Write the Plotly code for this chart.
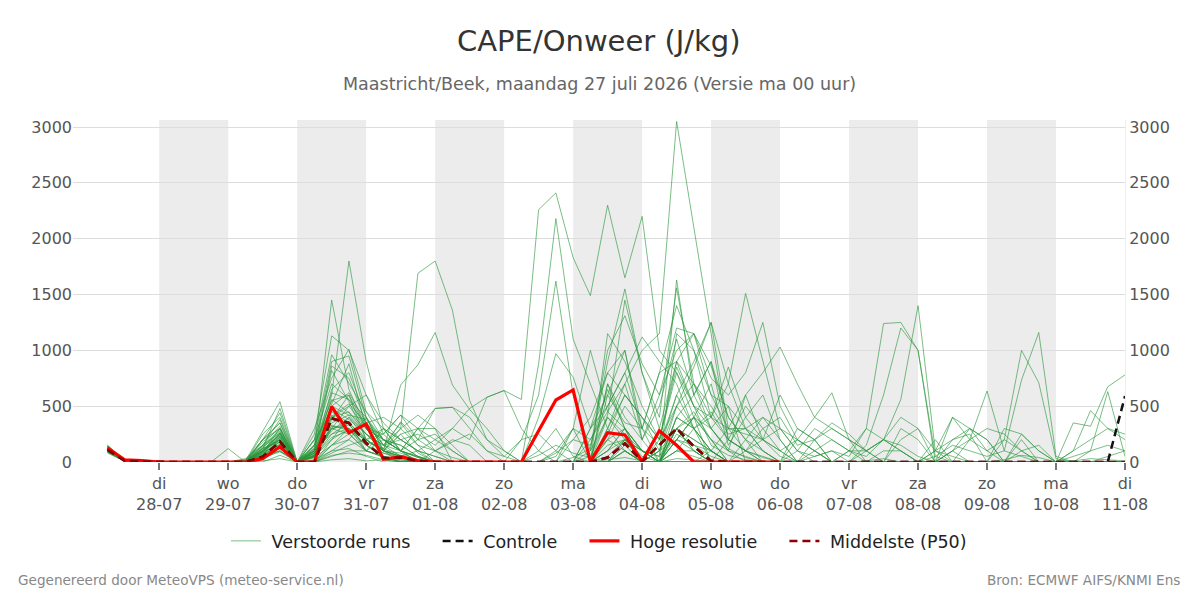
import plotly.graph_objects as go
import pandas as pd

# ---------------- data ----------------
times = pd.date_range("2026-07-27 06:00", periods=60, freq="6h")

tick_days = ["2026-07-28", "2026-07-29", "2026-07-30", "2026-07-31", "2026-08-01",
             "2026-08-02", "2026-08-03", "2026-08-04", "2026-08-05", "2026-08-06",
             "2026-08-07", "2026-08-08", "2026-08-09", "2026-08-10", "2026-08-11"]
day_names = ["di", "wo", "do", "vr", "za", "zo", "ma", "di", "wo", "do", "vr", "za", "zo", "ma", "di"]
day_dates = ["28-07", "29-07", "30-07", "31-07", "01-08", "02-08", "03-08", "04-08",
             "05-08", "06-08", "07-08", "08-08", "09-08", "10-08", "11-08"]
shaded_days = ["2026-07-28", "2026-07-30", "2026-08-01", "2026-08-03",
               "2026-08-05", "2026-08-07", "2026-08-09"]
y_ticks = [0, 500, 1000, 1500, 2000, 2500, 3000]

# ensemble members (6-hourly from 27-07 06:00)
run_01 = [150,15,5, 0,0,0,0, 0,10,280,540, 0,120,1450,650, 300,120,60,20, 10,0,0,0, 0,0,60,150, 80,40,420,1450, 800,300,900,500, 150,60,20,0, 0,0,0,0, 0,10,30,0, 0,0,0,0, 0,20,60,40, 0,10,30,20, 10]
run_02 = [120,12,4, 0,0,0,0, 0,0,120,480, 0,60,600,1800, 900,300,100,40, 0,0,0,0, 0,0,0,80, 200,150,650,300, 100,50,1630,600, 300,120,40,0, 0,0,0,0, 0,0,0,0, 0,0,0,0, 0,0,0,0, 0,0,0,0, 0]
run_03 = [130,10,3, 0,0,0,0, 0,20,200,440, 0,250,1130,1000, 600,250,420,200, 100,40,0,0, 0,0,0,0, 40,120,1000,1310, 880,600,1200,1150, 600,300,100,40, 0,0,0,0, 0,0,0,0, 0,0,0,0, 0,0,0,0, 0,0,0,0, 0]
run_04 = [100,8,2, 0,0,0,0, 0,0,150,380, 0,150,900,950, 400,150,300,1690, 1800,1360,550,200, 50,0,0,0, 0,0,200,500, 300,150,600,900, 1250,700,300,100, 0,0,0,0, 0,0,0,0, 0,0,0,0, 0,0,0,0, 0,0,0,0, 0]
run_05 = [90,10,3, 0,0,0,0, 0,0,80,300, 0,100,500,620, 350,200,100,40, 0,0,0,0, 0,0,0,50, 300,200,450,700, 1000,1150,3050,2080, 1150,200,100,50, 0,0,0,0, 0,0,0,0, 0,0,0,0, 0,0,0,0, 0,0,0,0, 0]
run_06 = [110,12,4, 0,0,0,0, 0,0,100,260, 0,80,400,450, 250,100,50,100, 200,300,480,580, 640,560,2260,2410, 1830,1490,2300,1650, 2200,1000,800,500, 300,100,50,0, 0,0,0,0, 0,0,0,0, 0,0,0,0, 0,0,0,0, 0,0,0,0, 0]
run_07 = [100,10,2, 0,0,0,0, 0,0,60,200, 0,50,300,350, 200,80,40,10, 0,0,0,0, 0,0,880,2180, 1100,700,300,100, 0,200,500,300, 100,0,0,0, 0,0,0,0, 0,0,0,0, 0,0,0,0, 0,0,0,0, 0,0,0,0, 0]
run_08 = [140,15,5, 0,0,0,0, 0,30,150,320, 0,100,820,540, 200,100,250,80, 0,0,0,0, 0,200,600,1620, 600,100,900,1550, 800,400,1560,700, 300,100,600,200, 50,0,0,0, 0,0,0,0, 0,0,0,0, 0,0,0,0, 0,0,0,0, 0]
run_09 = [120,10,3, 0,0,0,0, 0,0,200,350, 0,200,700,560, 300,100,690,870, 1160,690,470,300, 100,0,0,0, 0,100,400,250, 100,0,300,200, 100,0,0,0, 0,0,0,0, 0,0,0,0, 0,0,0,0, 0,0,0,0, 0,0,0,0, 0]
run_10 = [110,10,3, 0,0,0,0, 0,20,100,250, 0,80,650,800, 400,200,150,50, 0,0,0,0, 0,0,100,300, 50,0,600,1000, 300,800,1400,1000, 400,700,1510,900, 300,100,0,0, 0,0,0,0, 0,0,0,0, 0,0,0,0, 0,0,0,0, 0]
run_11 = [90,8,2, 0,0,0,0, 0,0,50,180, 0,100,400,500, 300,100,80,20, 0,0,0,0, 0,0,0,0, 0,300,800,600, 400,200,900,1150, 750,600,800,1250, 500,200,100,0, 0,0,0,0, 0,0,0,0, 0,0,0,0, 0,0,0,0, 0]
run_12 = [130,12,4, 0,0,0,0, 0,0,180,300, 0,150,550,600, 300,250,100,50, 0,0,0,0, 0,0,0,0, 0,0,300,700, 200,0,500,850, 1250,300,600,800, 1030,700,400,620, 200,100,0,0, 0,0,0,0, 0,0,0,0, 0,0,0,0, 0]
run_13 = [100,10,3, 0,0,0,0, 0,0,100,220, 0,50,250,300, 150,50,0,0, 0,0,0,0, 0,0,0,0, 0,0,0,100, 0,100,300,200, 100,0,200,400, 300,100,50,100, 50,300,1240,1250, 1000,0,100,0, 0,0,0,0, 0,0,0,0, 0]
run_14 = [120,10,3, 0,0,0,0, 0,10,120,180, 0,100,350,420, 250,100,50,0, 0,0,0,0, 0,0,0,0, 0,0,100,300, 100,0,400,300, 100,0,0,0, 0,0,50,100, 0,150,600,1200, 1000,50,0,0, 0,0,0,0, 0,0,0,0, 0]
run_15 = [140,14,5, 0,0,0,0, 0,0,90,150, 0,50,200,300, 100,40,0,0, 0,0,0,0, 0,0,0,0, 0,50,200,100, 0,0,200,400, 200,0,0,0, 0,0,0,0, 100,100,200,560, 1400,100,50,0, 0,0,0,0, 0,0,0,0, 0]
run_16 = [80,8,2, 0,0,0,0, 0,0,60,120, 0,40,300,250, 100,50,20,0, 0,0,0,0, 0,0,0,0, 0,0,50,200, 0,0,300,100, 0,0,0,0, 0,0,100,200, 100,50,200,100, 0,0,100,200, 636,100,50,0, 0,0,0,0, 0]
run_17 = [100,10,3, 0,0,0,0, 0,0,70,200, 0,80,280,400, 200,100,30,0, 0,0,0,0, 0,0,0,0, 0,0,100,300, 100,0,400,300, 0,0,0,0, 0,0,0,0, 0,0,100,100, 0,100,200,300, 100,200,1000,710, 30,0,0,0, 0]
run_18 = [110,12,4, 0,0,0,0, 0,0,100,250, 0,60,220,280, 150,50,10,0, 0,0,0,0, 0,0,0,0, 0,0,0,150, 0,0,200,150, 100,0,0,0, 0,0,0,0, 0,0,0,0, 0,50,150,100, 50,100,734,1160, 50,0,0,0, 0]
run_19 = [90,9,3, 0,0,0,0, 0,0,50,160, 0,40,150,200, 100,50,0,0, 0,0,0,0, 0,0,0,0, 0,0,100,200, 50,0,100,100, 0,0,0,0, 0,0,0,0, 0,0,0,0, 0,0,0,0, 0,0,0,0, 0,350,320,674, 780]
run_20 = [120,10,3, 0,0,0,0, 0,0,80,220, 0,60,320,300, 150,80,20,0, 0,0,0,0, 0,0,0,0, 0,0,0,0, 0,0,250,150, 50,0,0,0, 0,0,0,0, 0,0,0,0, 0,0,0,0, 0,0,100,150, 0,0,100,630, 50]
run_21 = [100,10,3, 0,0,0,0, 0,0,200,350, 0,200,960,700, 450,300,200,100, 50,0,0,0, 0,0,0,100, 300,0,700,400, 200,500,1100,600, 900,400,200,100, 0,0,0,0, 0,0,0,0, 0,0,0,0, 0,0,0,0, 0,100,460,300, 250]
run_22 = [130,12,4, 0,0,0,0, 0,10,150,280, 0,100,860,750, 350,150,350,150, 0,0,0,0, 0,0,0,0, 0,0,1150,900, 500,200,800,400, 200,100,0,0, 0,0,0,0, 0,0,0,0, 0,0,0,0, 0,0,0,0, 0,0,0,0, 0]
run_23 = [110,10,3, 0,0,0,0, 0,0,100,200, 0,300,750,1010, 450,200,100,300, 200,100,0,0, 0,0,0,0, 200,400,800,1000, 200,600,1000,1150, 860,400,200,0, 0,0,0,0, 0,0,0,0, 0,0,0,0, 0,0,0,0, 0,0,0,0, 0]
run_24 = [150,15,5, 0,0,0,0, 0,0,250,400, 0,150,620,560, 400,100,50,0, 0,0,0,0, 0,0,400,970, 760,300,600,350, 300,800,900,700, 400,200,500,300, 100,0,0,0, 0,0,0,0, 0,0,0,0, 0,0,0,0, 0,0,0,0, 0]
run_25 = [120,12,4, 0,0,0,0, 0,0,60,260, 0,50,520,880, 300,200,100,0, 0,0,0,0, 0,0,0,0, 0,300,500,800, 1120,900,700,300, 100,0,0,0, 0,0,0,0, 0,0,0,0, 0,0,0,0, 0,0,0,0, 0,0,0,0, 0]
run_26 = [100,10,3, 0,0,0,0, 0,0,120,200, 0,200,450,350, 200,300,200,100, 0,0,0,0, 0,0,0,0, 0,0,0,100, 0,0,1150,1000, 600,500,300,100, 0,0,0,0, 0,0,0,0, 0,0,0,0, 0,0,0,0, 0,0,0,0, 0]
run_27 = [140,14,4, 0,0,0,0, 0,0,40,140, 0,100,300,500, 600,350,200,100, 50,0,0,0, 0,0,0,0, 300,1000,450,300, 0,0,200,400, 300,500,0,0, 0,0,0,0, 0,0,0,0, 0,0,0,0, 0,0,0,0, 0,0,0,0, 0]
run_28 = [90,8,2, 0,0,0,0, 0,0,30,100, 0,0,200,400, 250,150,100,50, 0,0,0,0, 0,0,0,0, 0,0,300,600, 400,200,850,500, 400,850,400,600, 200,0,0,0, 0,0,0,0, 0,0,0,0, 0,0,0,0, 0,0,0,0, 0]
run_29 = [110,10,3, 0,0,0,0, 0,0,80,120, 0,0,150,250, 350,400,300,150, 100,0,0,0, 0,0,0,0, 0,0,0,200, 100,0,300,450, 200,0,100,200, 300,200,100,0, 0,0,0,0, 0,0,0,0, 0,0,0,0, 0,0,0,0, 0]
run_30 = [100,10,3, 0,0,0,0, 0,0,0,60, 0,0,100,200, 400,100,0,0, 0,0,0,0, 0,0,0,0, 0,0,0,0, 0,0,0,0, 0,200,100,0, 0,300,200,0, 0,0,0,0, 0,0,0,0, 0,0,0,0, 0,0,0,0, 0]
run_31 = [120,12,4, 0,0,0,0, 0,0,120,300, 0,50,380,600, 200,100,300,420, 300,0,0,0, 0,0,0,0, 0,0,250,600, 400,100,600,300, 400,300,250,200, 100,200,400,300, 200,100,0,0, 0,200,0,0, 0,0,0,0, 0,0,0,0, 0]
run_32 = [130,13,4, 0,0,0,0, 0,0,90,230, 0,0,80,150, 200,100,250,300, 480,490,300,100, 0,0,0,0, 0,0,700,300, 100,0,300,100, 0,0,0,0, 0,0,0,0, 0,0,0,0, 0,100,400,300, 200,0,0,0, 0,0,0,0, 0]
run_33 = [100,10,3, 0,0,0,0, 0,0,60,100, 0,0,50,100, 100,300,100,0, 100,200,150,0, 0,0,0,0, 0,0,0,0, 0,0,0,0, 0,0,0,0, 0,0,0,0, 0,0,0,300, 200,0,0,0, 0,0,0,0, 0,0,0,0, 0]
run_34 = [110,11,3, 0,0,0,0, 0,0,150,260, 0,120,250,350, 100,50,0,0, 0,0,0,0, 0,0,0,0, 0,0,0,200, 100,0,200,400, 700,150,400,200, 600,300,200,0, 0,100,200,400, 300,0,0,0, 0,200,100,0, 0,0,0,0, 0]
run_35 = [140,14,5, 0,0,0,0, 0,0,100,200, 0,0,150,300, 200,100,50,0, 0,0,0,0, 0,0,0,0, 0,0,0,0, 0,100,500,700, 500,250,300,400, 200,0,0,0, 0,0,0,0, 0,0,0,0, 0,300,250,100, 0,0,0,0, 0]
run_36 = [90,9,2, 0,0,0,0, 0,0,50,100, 0,20,100,120, 50,0,0,0, 0,0,0,0, 0,0,0,0, 0,0,0,0, 0,0,0,0, 0,0,0,0, 0,0,200,300, 200,0,0,0, 0,0,0,0, 0,0,0,0, 0,0,0,0, 0]
run_37 = [120,12,4, 0,0,0,0, 0,0,70,180, 0,80,420,260, 100,200,150,50, 0,0,0,0, 0,0,0,0, 0,0,200,300, 0,0,100,50, 0,0,0,0, 0,0,0,0, 0,0,0,0, 0,0,200,250, 0,0,200,0, 0,0,0,0, 0]
run_38 = [100,10,3, 0,0,0,0, 0,0,40,90, 0,0,60,80, 60,20,0,0, 0,0,0,0, 0,0,0,0, 0,0,0,0, 0,0,0,0, 0,0,0,0, 0,0,0,0, 0,0,0,0, 0,0,0,0, 0,0,0,0, 0,50,100,150, 100]
run_39 = [130,13,4, 0,0,0,0, 0,0,10,30, 0,0,20,30, 10,20,0,0, 0,0,0,0, 0,0,0,0, 0,0,20,40, 10,0,30,20, 0,0,0,0, 0,0,0,0, 0,0,0,0, 0,0,0,0, 0,0,0,0, 0,0,0,0, 0]
run_40 = [110,10,3, 0,0,0,0, 120,0,200,300, 0,150,500,420, 380,200,100,300, 300,150,0,0, 0,0,0,0, 0,0,150,200, 100,50,300,400, 0,0,0,0, 0,0,0,0, 0,0,0,0, 0,0,0,0, 0,0,0,0, 0,0,0,0, 0]
run_41 = [120,11,4, 0,0,0,0, 0,0,130,270, 0,90,480,380, 250,150,200,250, 150,300,200,580, 640,300,100,0, 0,0,400,200, 0,100,200,100, 0,0,0,0, 0,100,300,200, 100,0,0,0, 0,0,100,300, 200,0,0,0, 0,100,200,300, 200]
run_42 = [100,10,3, 0,0,0,0, 0,0,90,210, 0,60,330,280, 200,250,420,300, 100,180,250,100, 50,200,250,100, 0,200,500,800, 300,0,400,600, 900,200,100,300, 400,150,200,350, 250,100,200,150, 50,0,0,200, 300,250,100,0, 0,0,0,50, 100]
run_43 = [130,12,4, 0,0,0,0, 0,0,110,240, 0,130,560,440, 300,200,100,200, 480,490,400,200, 100,0,0,0, 0,0,0,100, 0,0,100,300, 450,200,100,0, 0,200,100,0, 100,300,200,100, 0,0,400,200, 100,0,250,100, 0,0,0,0, 0]
run_44 = [110,10,3, 0,0,0,0, 0,0,60,160, 0,110,300,330, 180,120,360,200, 250,100,0,0, 0,0,0,0, 0,0,0,0, 0,0,0,0, 100,300,300,200, 100,0,0,0, 0,0,0,200, 300,100,0,0, 0,0,0,0, 0,0,0,0, 0]
run_45 = [140,13,5, 0,0,0,0, 0,0,140,230, 0,70,410,520, 350,150,50,0, 0,0,0,0, 0,0,0,0, 0,0,0,0, 0,0,0,0, 0,0,0,0, 0,0,0,0, 0,0,0,0, 0,0,0,0, 0,0,0,0, 0,0,0,0, 0]

members = [run_01, run_02, run_03, run_04, run_05, run_06, run_07, run_08, run_09, run_10,
           run_11, run_12, run_13, run_14, run_15, run_16, run_17, run_18, run_19, run_20,
           run_21, run_22, run_23, run_24, run_25, run_26, run_27, run_28, run_29, run_30,
           run_31, run_32, run_33, run_34, run_35, run_36, run_37, run_38, run_39, run_40,
           run_41, run_42, run_43, run_44, run_45]

control = [110,10,5, 0,0,0,0, 0,0,47,182, 0,0,390,350, 170,35,40,10, 0,0,0,0, 0,0,0,0, 0,0,40,167, 5,150,300,140, 10,0,0,0, 0,0,0,0, 0,0,0,0, 0,0,0,0, 0,0,0,0, 0,0,0,0, 590]
hres = [125,20,12, 0,0,0,0, 0,0,30,137, 0,0,495,262, 340,25,48,10, 0,0,0,0, 0,0,280,555, 645,0,262,242, 5,280,150,0, 0,0,0,0, 0]
p50 = [110,10,5, 0,0,0,0, 0,0,47,182, 0,0,390,350, 170,35,40,10, 0,0,0,0, 0,0,0,0, 0,0,40,167, 5,150,300,140, 10,0,0,0, 0,0,0,0, 0,0,0,0, 0,0,0,0, 0,0,0,0, 0,0,0,0, 0]

# ---------------- figure ----------------
FONT = "DejaVu Sans"
NB = "\u00a0"
fig = go.Figure()

for k, m in enumerate(members):
    fig.add_trace(go.Scatter(
        x=times[:len(m)], y=m, mode="lines",
        line=dict(color="rgba(40,150,58,0.62)", width=1),
        name=NB + "Verstoorde runs" + NB * 4, legendgroup="ens", showlegend=(k == 0),
        hoverinfo="skip"))

fig.add_trace(go.Scatter(x=times[:len(control)], y=control, mode="lines",
                         line=dict(color="#111111", width=2.5, dash="8px,5px"),
                         name=NB + "Controle" + NB * 4))
fig.add_trace(go.Scatter(x=times[:len(hres)], y=hres, mode="lines",
                         line=dict(color="#ff0000", width=3.2),
                         name=NB + "Hoge resolutie" + NB * 4))
fig.add_trace(go.Scatter(x=times[:len(p50)], y=p50, mode="lines",
                         line=dict(color="#8b0000", width=2.5, dash="8px,5px"),
                         name=NB + "Middelste (P50)"))
# invisible trace for the mirrored right axis
fig.add_trace(go.Scatter(x=[times[0]], y=[0], yaxis="y2", mode="markers",
                         marker=dict(opacity=0), showlegend=False, hoverinfo="skip"))

for d in shaded_days:
    d0 = pd.Timestamp(d)
    fig.add_shape(type="rect", xref="x", yref="paper", x0=d0, x1=d0 + pd.Timedelta(days=1),
                  y0=0, y1=1, fillcolor="#ececec", line=dict(width=0), layer="below")

ticktext = [f"{n}<br>{dd}" for n, dd in zip(day_names, day_dates)]

fig.update_layout(
    width=1200, height=600,
    margin=dict(l=73, r=75, t=120, b=138),
    paper_bgcolor="white", plot_bgcolor="white",
    font=dict(family=FONT, color="#555555", size=16),
    showlegend=True,
    legend=dict(orientation="h", x=0.5, xanchor="center", y=-0.231, yanchor="middle",
                font=dict(family=FONT, size=17.5, color="#222222"),
                bgcolor="rgba(0,0,0,0)", itemwidth=30),
    xaxis=dict(type="date", range=["2026-07-26 18:00", "2026-08-11 00:00"],
               tickvals=tick_days, ticktext=ticktext, showgrid=False,
               ticks="outside", ticklen=7, tickcolor="#777777", tickwidth=2,
               tickfont=dict(family=FONT, size=16, color="#555555"),
               showline=False, zeroline=False),
    yaxis=dict(range=[0, 3063], tickvals=y_ticks, showgrid=True, gridcolor="#dddddd",
               gridwidth=1, zeroline=False, showline=False,
               tickfont=dict(family=FONT, size=16, color="#555555")),
    yaxis2=dict(overlaying="y", side="right", matches="y", range=[0, 3063],
                tickvals=y_ticks, showgrid=False, zeroline=False,
                showline=True, linecolor="#eeeeee", linewidth=1,
                tickfont=dict(family=FONT, size=16, color="#555555")),
    annotations=[
        dict(text="CAPE/Onweer (J/kg)", xref="paper", yref="paper", x=0.5, y=1.231,
             xanchor="center", yanchor="middle", showarrow=False,
             font=dict(family=FONT, size=29, color="#333333")),
        dict(text="Maastricht/Beek, maandag 27 juli 2026 (Versie ma 00 uur)",
             xref="paper", yref="paper", x=0.5, y=1.105, xanchor="center",
             yanchor="middle", showarrow=False,
             font=dict(family=FONT, size=17.5, color="#666666")),
        dict(text="Gegenereerd door MeteoVPS (meteo-service.nl)", xref="paper", yref="paper",
             x=-0.0542, y=-0.345, xanchor="left", yanchor="middle", showarrow=False,
             font=dict(family=FONT, size=13.6, color="#888888")),
        dict(text="Bron: ECMWF AIFS/KNMI Ens", xref="paper", yref="paper",
             x=1.0542, y=-0.345, xanchor="right", yanchor="middle", showarrow=False,
             font=dict(family=FONT, size=13.6, color="#888888")),
    ],
)

fig.write_html("out.html")
